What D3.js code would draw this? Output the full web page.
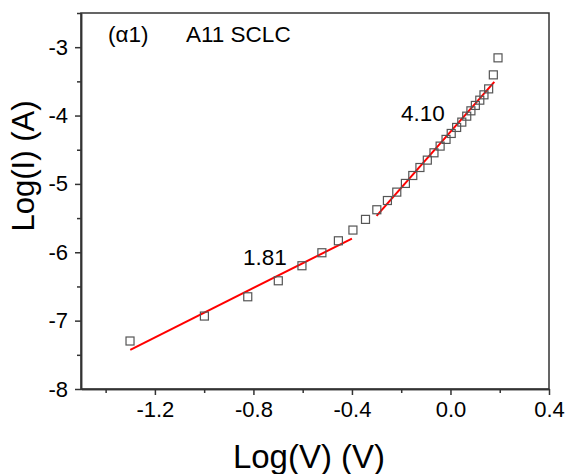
<!DOCTYPE html>
<html>
<head>
<meta charset="utf-8">
<script src="https://cdn.jsdelivr.net/npm/d3@7"></script>
<style>
  html, body { margin: 0; padding: 0; background: #fff; }
  svg { display: block; font-family: "Liberation Sans", Arial, sans-serif; }
</style>
</head>
<body>
<svg id="chart" width="571" height="474"></svg>
<script>
// log10(V) of each measurement point
const logV = [-1.301, -0.999, -0.823, -0.699, -0.603, -0.522, -0.455, -0.396,
  -0.345, -0.299, -0.256, -0.218, -0.183, -0.153, -0.124, -0.094, -0.067,
  -0.042, -0.018, 0.003, 0.025, 0.046, 0.066, 0.083, 0.101, 0.119, 0.136,
  0.155, 0.174, 0.193];
// log10(I) of each measurement point
const logI = [-7.298, -6.933, -6.651, -6.417, -6.197, -6.007, -5.832, -5.675,
  -5.519, -5.378, -5.243, -5.120, -4.993, -4.877, -4.760, -4.652, -4.545,
  -4.447, -4.349, -4.262, -4.174, -4.096, -4.009, -3.931, -3.852, -3.775,
  -3.697, -3.610, -3.405, -3.156];

// linear fits: slope, intercept, x-range, label anchor
const fitSlopes = [1.81, 4.10];
const fitIntercepts = [-5.075, -4.237];
const fitStart = [-1.30, -0.30];
const fitEnd = [-0.40, 0.178];
const fitLabelX = [-0.842, -0.201];
const fitLabelY = [-6.187, -4.082];

const xTicks = [-1.2, -0.8, -0.4, 0.0, 0.4];
const xMinor = [-1.4, -1.0, -0.6, -0.2, 0.2];
const yTicks = [-8, -7, -6, -5, -4, -3];
const yMinor = [-7.5, -6.5, -5.5, -4.5, -3.5, -2.5];

const svg = d3.select("#chart");
const L = 81, R = 549, T = 13, B = 389;

const x = d3.scaleLinear().domain([-1.5, 0.4]).range([L, R]);
const y = d3.scaleLinear().domain([-8, -2.5]).range([B, T]);

const axisColor = "#333";
const hyphen = f => v => f(v).replace("\u2212", "-");

// frame
svg.append("rect")
  .attr("x", L).attr("y", T).attr("width", R - L).attr("height", B - T)
  .attr("fill", "none").attr("stroke", axisColor).attr("stroke-width", 1.5);

// bottom axis
const gx = svg.append("g").attr("transform", `translate(0,${B})`);
gx.call(d3.axisBottom(x).tickValues(xTicks).tickFormat(hyphen(d3.format(".1f")))
    .tickSize(6).tickSizeOuter(0).tickPadding(6));
gx.append("g").call(d3.axisBottom(x).tickValues(xMinor).tickFormat("").tickSize(4).tickSizeOuter(0));

// left axis
const gy = svg.append("g").attr("transform", `translate(${L},0)`);
gy.call(d3.axisLeft(y).tickValues(yTicks).tickFormat(hyphen(d3.format("d")))
    .tickSize(6).tickSizeOuter(0).tickPadding(7));
gy.append("g").call(d3.axisLeft(y).tickValues(yMinor).tickFormat("").tickSize(4).tickSizeOuter(0));

svg.selectAll(".domain").attr("stroke", axisColor).attr("stroke-width", 1.5);
svg.selectAll(".tick line").attr("stroke", axisColor).attr("stroke-width", 1.5);
svg.selectAll(".tick text").attr("fill", "#000").style("font-size", "22px");

// fit lines with slope labels
fitSlopes.forEach((m, i) => {
  const f = v => m * v + fitIntercepts[i];
  svg.append("line")
    .attr("x1", x(fitStart[i])).attr("y1", y(f(fitStart[i])))
    .attr("x2", x(fitEnd[i])).attr("y2", y(f(fitEnd[i])))
    .attr("stroke", "#ff0000").attr("stroke-width", 2);
  svg.append("text")
    .attr("x", x(fitLabelX[i])).attr("y", y(fitLabelY[i]))
    .style("font-size", "22.5px").attr("fill", "#000")
    .text(m.toFixed(2));
});

// data squares
const s = 8;
svg.append("g").selectAll("rect")
  .data(logV.map((v, i) => [v, logI[i]]))
  .join("rect")
  .attr("x", d => x(d[0]) - s / 2).attr("y", d => y(d[1]) - s / 2)
  .attr("width", s).attr("height", s)
  .attr("fill", "none").attr("stroke", "#555").attr("stroke-width", 1.2);

// panel annotations
svg.append("text").attr("x", 108).attr("y", 42).style("font-size", "22.5px").text("(α1)");
svg.append("text").attr("x", 186).attr("y", 42).style("font-size", "22.5px").text("A11 SCLC");

// axis titles
svg.append("text")
  .attr("x", 309).attr("y", 468)
  .attr("text-anchor", "middle").style("font-size", "33px")
  .text("Log(V) (V)");
svg.append("text")
  .attr("transform", `translate(34,166) rotate(-90)`)
  .attr("text-anchor", "middle").style("font-size", "31px")
  .text("Log(I) (A)");
</script>
</body>
</html>
